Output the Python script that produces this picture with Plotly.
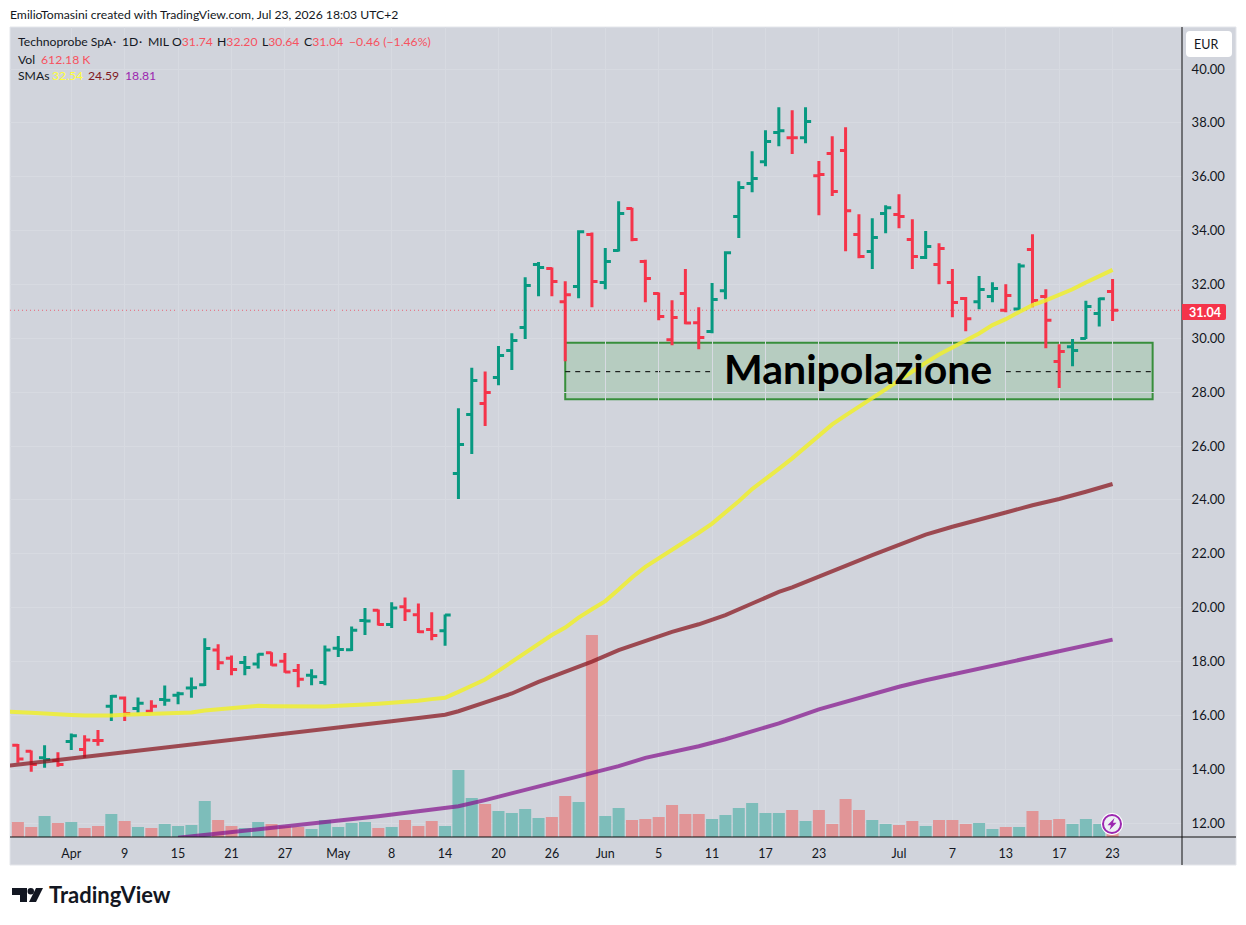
import plotly.graph_objects as go

# ========== data ==========
bars = list(range(83))
opens = [14.89, 14.66, 14.42, 14.32, 15.03, 14.73, 15.06, 16.34, 16.64, 16.25, 16.15, 16.59, 16.74, 17.01, 17.13, 18.42,
         18.12, 17.96, 17.90, 18.32, 18.01, 17.66, 17.49, 17.22, 18.49, 18.43, 19.52, 19.90, 19.37, 20.03, 19.73, 19.19,
         19.14, 24.98, 27.17, 27.58, 28.54, 29.55, 30.40, 32.74, 32.59, 31.36, 31.92, 33.85, 32.07, 33.26, 34.82, 32.85,
         31.66, 29.95, 31.66, 30.58, 30.25, 31.77, 34.52, 35.75, 36.56, 37.64, 37.45, 37.45, 36.04, 36.86, 36.97, 33.85,
         33.22, 34.63, 34.60, 33.67, 33.00, 32.74, 32.07, 31.48, 31.36, 31.55, 31.04, 31.09, 33.30, 31.55, 29.14, 29.69,
         29.99, 30.92, 31.74]
highs = [14.93, 14.69, 14.89, 14.63, 15.32, 15.26, 15.45, 16.75, 16.70, 16.66, 16.56, 17.11, 16.87, 17.40, 18.86, 18.64,
         18.22, 18.20, 18.29, 18.34, 18.31, 17.90, 17.71, 18.59, 18.94, 19.30, 19.98, 19.93, 20.20, 20.37, 20.15, 19.83,
         19.74, 27.40, 28.91, 28.77, 29.71, 30.19, 32.27, 32.83, 32.63, 32.12, 34.01, 33.93, 33.35, 35.09, 34.85, 32.92,
         31.70, 31.41, 32.57, 31.15, 32.05, 33.23, 35.83, 36.95, 37.73, 38.58, 38.47, 38.58, 36.58, 37.50, 37.84, 34.61,
         34.46, 34.94, 35.35, 34.42, 33.98, 33.53, 32.57, 31.53, 32.31, 32.08, 32.01, 32.79, 33.86, 31.82, 29.78, 29.97,
         31.39, 31.51, 32.20]
lows = [14.24, 13.90, 14.05, 14.09, 14.71, 14.42, 14.87, 15.79, 15.79, 16.09, 16.09, 16.35, 16.41, 16.65, 17.09, 17.68,
        17.49, 17.49, 17.74, 17.84, 17.58, 17.04, 17.12, 17.12, 18.16, 18.39, 18.98, 19.33, 19.24, 19.50, 19.06, 18.79,
        18.58, 24.03, 25.70, 26.74, 28.26, 28.82, 29.97, 31.56, 31.56, 29.15, 31.49, 31.15, 31.82, 33.22, 33.60, 31.34,
        30.67, 29.74, 30.52, 29.59, 30.19, 31.45, 33.72, 35.42, 36.39, 37.13, 36.84, 37.24, 34.57, 35.28, 33.23, 32.97,
        32.57, 33.90, 34.09, 32.57, 32.94, 32.01, 30.78, 30.26, 31.08, 31.34, 30.97, 31.04, 31.15, 29.63, 28.15, 28.96,
        29.97, 30.44, 30.64]
closes = [14.38, 14.17, 14.36, 14.17, 15.24, 15.08, 15.06, 16.71, 16.07, 16.45, 16.34, 16.56, 16.80, 17.02, 18.48, 17.95,
          17.70, 17.77, 18.27, 17.87, 17.61, 17.34, 17.43, 18.42, 18.44, 19.16, 19.50, 19.37, 19.98, 19.88, 19.10, 18.96,
          19.72, 26.06, 28.43, 27.99, 29.36, 29.92, 31.96, 32.63, 32.11, 31.62, 33.96, 32.11, 32.85, 34.63, 33.67, 32.22,
          30.81, 30.77, 30.57, 30.03, 31.44, 33.18, 35.60, 35.93, 37.31, 37.71, 37.45, 38.05, 36.08, 35.45, 34.74, 33.04,
          33.74, 34.85, 34.52, 33.04, 33.41, 33.33, 31.33, 30.73, 31.81, 31.85, 31.59, 32.68, 31.40, 30.67, 29.51, 29.55,
          31.18, 31.47, 31.04]
# "g" / "r" colour of each day's bar and volume column
bar_dir = ("r r g r g r r g r g r g g g g r r g g r r r g g g g g r g r r r g "
           "g g r g g g g r r g r g g r r r r r r g g g g g g r g r r r r g g "
           "r r g r r r g g r g r r r g g g r").split()
volume_k = [510, 340, 714, 476, 510, 306, 374, 782, 544, 340, 306, 442, 374, 408, 1224, 578, 374, 306, 510, 442, 374,
            340, 272, 578, 340, 476, 510, 306, 340, 578, 374, 544, 374, 2278, 1326, 1122, 884, 816, 952, 646, 680, 1394,
            1190, 6868, 714, 986, 578, 612, 680, 1088, 782, 782, 612, 748, 986, 1156, 816, 816, 918, 544, 918, 442, 1292,
            918, 578, 442, 408, 544, 374, 578, 578, 442, 476, 272, 340, 340, 884, 578, 612, 442, 612, 442, 612.18]

sma_yellow_idx = list(range(-1, 83))
sma_yellow = [16.14, 16.10, 16.09, 16.07, 16.03, 16.01, 15.99, 15.98, 15.99, 16.02, 16.03, 16.04, 16.07, 16.08, 16.10,
              16.18, 16.22, 16.27, 16.30, 16.35, 16.34, 16.33, 16.33, 16.31, 16.33, 16.35, 16.36, 16.40, 16.43, 16.46,
              16.50, 16.54, 16.60, 16.65, 16.87, 17.08, 17.33, 17.65, 17.99, 18.33, 18.67, 18.98, 19.26, 19.63, 19.94,
              20.24, 20.67, 21.12, 21.51, 21.82, 22.16, 22.48, 22.78, 23.12, 23.52, 23.95, 24.40, 24.76, 25.15, 25.54,
              25.97, 26.40, 26.80, 27.14, 27.45, 27.79, 28.10, 28.44, 28.78, 29.09, 29.40, 29.65, 29.93, 30.18, 30.49,
              30.71, 30.98, 31.23, 31.41, 31.60, 31.82, 32.07, 32.31, 32.54]
sma_brown_idx = [-1, 6, 14, 21, 28, 32, 33, 35, 37, 39, 41, 43, 45, 47, 49, 51, 53, 55, 57, 58, 60, 62, 64, 66, 68, 70,
                 72, 74, 76, 78, 80, 82]
sma_brown = [14.11, 14.51, 14.98, 15.35, 15.78, 16.02, 16.15, 16.48, 16.81, 17.24, 17.61, 17.99, 18.42, 18.77, 19.10,
             19.38, 19.72, 20.15, 20.58, 20.75, 21.17, 21.55, 21.95, 22.34, 22.71, 23.00, 23.25, 23.53, 23.80, 24.03,
             24.30, 24.59]
sma_purple_idx = [12, 15, 19, 23, 27, 30, 32, 33, 35, 38, 41, 43, 45, 47, 49, 51, 53, 55, 57, 60, 62, 64, 66, 68, 70,
                  72, 74, 76, 78, 80, 82]
sma_purple = [11.45, 11.61, 11.82, 12.01, 12.25, 12.44, 12.55, 12.62, 12.85, 13.22, 13.59, 13.84, 14.11, 14.42, 14.64,
              14.85, 15.11, 15.39, 15.70, 16.22, 16.50, 16.81, 17.06, 17.30, 17.52, 17.74, 17.95, 18.17, 18.39, 18.60,
              18.81]

date_ticks = [4, 8, 12, 16, 20, 24, 28, 32, 36, 40, 44, 48, 52, 56, 60, 66, 70, 74, 78, 82]
date_labels = ["Apr", "9", "15", "21", "27", "May", "8", "14", "20", "26", "Jun", "5", "11", "17", "23", "Jul", "7",
               "13", "17", "23"]
price_ticks = list(range(12, 42, 2))
last_price = 31.04

# zone drawn on the chart
zone_start, zone_end = 41.0, 85.0
zone_low, zone_high, zone_mid = 27.74, 29.83, 28.76
zone_gap = (51.85, 74.0)

GREEN = "#089981"
RED = "#f5344a"
VOL_GREEN = "#7dbdba"
VOL_RED = "#e19597"
INK = "#131722"
FONT = "Lato"
PANEL = "#d1d4dc"

W, H = 1246, 925
PLOT_L, PLOT_R, PLOT_T, PLOT_B = 10, 1182, 27, 837


# page pixel -> paper fraction, only for the decorations around the plot
def px(x):
    return (x - PLOT_L) / (PLOT_R - PLOT_L)


def py(y):
    return (PLOT_B - y) / (PLOT_B - PLOT_T)


def note(x, y, text, size=12.2, color=INK, anchor="left", family=FONT):
    fig.add_annotation(xref="paper", yref="paper", x=px(x - 1 if anchor == "left" else x), y=py(y), text=text,
                       showarrow=False, xanchor=anchor, yanchor="middle", borderpad=0,
                       font=dict(size=size, color=color, family=family))


def poly(points, color):
    d = "M " + " L ".join(f"{px(a)},{py(b)}" for a, b in points) + " Z"
    fig.add_shape(type="path", path=d, xref="paper", yref="paper", fillcolor=color, line_width=0, layer="above")


def round_box(x0, y0, x1, y1, r, color, left=True):
    rl = r if left else 0
    d = (f"M {px(x0 + rl)},{py(y0)} L {px(x1 - r)},{py(y0)} Q {px(x1)},{py(y0)} {px(x1)},{py(y0 + r)} "
         f"L {px(x1)},{py(y1 - r)} Q {px(x1)},{py(y1)} {px(x1 - r)},{py(y1)} L {px(x0 + rl)},{py(y1)} "
         f"Q {px(x0)},{py(y1)} {px(x0)},{py(y1 - rl)} L {px(x0)},{py(y0 + rl)} Q {px(x0)},{py(y0)} {px(x0 + rl)},{py(y0)} Z")
    fig.add_shape(type="path", path=d, xref="paper", yref="paper", fillcolor=color, line_width=0, layer="above")


fig = go.Figure()

# ========== volume ==========
fig.add_trace(go.Bar(x=bars, y=volume_k, width=0.9, yaxis="y",
                     marker=dict(color=[VOL_GREEN if d == "g" else VOL_RED for d in bar_dir], line_width=0)))

# ========== moving averages ==========
fig.add_trace(go.Scatter(x=sma_purple_idx, y=sma_purple, mode="lines", yaxis="y2",
                         line=dict(color="rgba(133,21,141,0.72)", width=4)))
fig.add_trace(go.Scatter(x=sma_brown_idx, y=sma_brown, mode="lines", yaxis="y2",
                         line=dict(color="rgba(136,20,28,0.72)", width=4)))
fig.add_trace(go.Scatter(x=sma_yellow_idx, y=sma_yellow, mode="lines", yaxis="y2",
                         line=dict(color="rgba(240,238,45,0.85)", width=4)))

# ========== price bars: ohlc colours by open/close, here the colour follows the day so two traces ==========
for side, color in (("g", GREEN), ("r", RED)):
    pick = [i for i in bars if bar_dir[i] == side]
    fig.add_trace(go.Ohlc(x=pick, open=[opens[i] for i in pick], high=[highs[i] for i in pick],
                          low=[lows[i] for i in pick], close=[closes[i] for i in pick], yaxis="y2", tickwidth=0.42,
                          increasing=dict(line=dict(color=color, width=3)),
                          decreasing=dict(line=dict(color=color, width=3))))

fig.update_layout(
    width=W, height=H, autosize=False, showlegend=False, paper_bgcolor="white", plot_bgcolor="rgba(0,0,0,0)",
    margin=dict(l=PLOT_L, r=W - PLOT_R, t=PLOT_T, b=H - PLOT_B, pad=0), hovermode=False, dragmode=False,
    xaxis=dict(range=[-0.59, 87.2], tickmode="array", tickvals=date_ticks, ticktext=date_labels, showgrid=True,
               gridcolor="#d7dae1", gridwidth=1, zeroline=False, rangeslider_visible=False, ticks="outside", ticklen=5,
               tickcolor="rgba(0,0,0,0)", tickfont=dict(size=12.5, color=INK, family=FONT)),
    yaxis=dict(range=[0, 27540], visible=False, fixedrange=True),
    yaxis2=dict(range=[11.48, 41.56], overlaying="y", side="right", anchor="x", tickmode="array", tickvals=price_ticks,
                tickformat=".2f", showgrid=True, gridcolor="#d7dae1", gridwidth=1, zeroline=False, ticks="outside",
                ticklen=6, tickcolor="rgba(0,0,0,0)", tickfont=dict(size=13, color=INK, family=FONT)),
)

# panel behind everything, frame lines around the scales
fig.add_shape(type="rect", xref="paper", yref="paper", x0=px(10), x1=px(1236), y0=py(865), y1=py(27), fillcolor=PANEL,
              line=dict(color="#e4e6eb", width=1), layer="below")
fig.add_shape(type="line", xref="paper", yref="paper", x0=px(10), x1=px(1236), y0=py(837), y1=py(837),
              line=dict(color="#0f0f0f", width=1), layer="above")
fig.add_shape(type="line", xref="paper", yref="paper", x0=px(1182), x1=px(1182), y0=py(27), y1=py(865),
              line=dict(color="#0f0f0f", width=1), layer="above")

# last price line and label
fig.add_shape(type="line", xref="paper", yref="y2", x0=0, x1=1, y0=last_price, y1=last_price, opacity=0.7,
              line=dict(color=RED, width=1, dash="1px,3px"), layer="below")
round_box(1182, 304, 1226, 320, 2, RED, left=False)
note(1205, 312, f"<b>{last_price:.2f}</b>", 12.5, "white", "center")

# zone rectangle
fig.add_shape(type="rect", xref="x", yref="y2", x0=zone_start, x1=zone_end, y0=zone_low, y1=zone_high,
              fillcolor="rgba(76,175,80,0.2)", line=dict(color="#388e3c", width=2), layer="below")
for a, b in ((zone_start, zone_gap[0]), (zone_gap[1], zone_end)):
    fig.add_shape(type="line", xref="x", yref="y2", x0=a, x1=b, y0=zone_mid, y1=zone_mid,
                  line=dict(color="black", width=1, dash="5px,5px"), layer="below")
fig.add_annotation(xref="x", yref="y2", x=62.9, y=zone_mid, yshift=3, text="<b>Manipolazione</b>", showarrow=False,
                   font=dict(size=41, color="black", family=FONT))

# header and legend
note(10, 14, "EmilioTomasini created with TradingView.com, Jul 23, 2026 18:03 UTC+2")
for x, part in ((18, "Technoprobe SpA"), (113, "·"), (122, "1D"), (139, "·"), (148, "MIL")):
    note(x, 42, part)
LOSS = "#f7525f"
for x, lab, val in ((172, "O", "31.74"), (217, "H", "32.20"), (262, "L", "30.64"), (304, "C", "31.04")):
    note(x, 42, f'{lab}<span style="color:{LOSS}">{val}</span>')
note(349, 42, "−0.46 (−1.46%)", color=LOSS)
note(18, 59, "Vol")
note(41, 59, "612.18 K", color=LOSS)
note(18, 76, "SMAs")
note(52, 76, "32.54", color="#ffff3b")
note(88, 76, "24.59", color="#801922")
note(125, 76, "18.81", color="#9c27b0")

# currency button
round_box(1186, 31, 1232, 57, 4, "white")
note(1206, 44, "EUR", 12.5, INK, "center")

# dividends/earnings badge on the last bar
fig.add_shape(type="circle", xref="paper", yref="paper", x0=px(1101), x1=px(1123), y0=py(835), y1=py(813),
              fillcolor="white", line_width=0, layer="above")
fig.add_shape(type="circle", xref="paper", yref="paper", x0=px(1103), x1=px(1121), y0=py(833), y1=py(815),
              fillcolor="#eef0f4", line=dict(color="#9c27b0", width=2), layer="above")
poly([(1114.5, 818), (1107.5, 825.3), (1111, 825.3), (1109.5, 830), (1116.5, 822.8), (1113, 822.8)], "#9c27b0")

# footer wordmark
poly([(12, 888), (27, 888), (27, 902), (20, 902), (20, 895), (12, 895)], "#131722")
poly([(36, 888), (43, 888), (36, 902), (29, 902)], "#131722")
fig.add_shape(type="circle", xref="paper", yref="paper", x0=px(27.5), x1=px(34), y0=py(894.5), y1=py(888),
              fillcolor="#131722", line_width=0, layer="above")
note(49, 895, "<b>TradingView</b>", 22, "#131722")

fig.write_html("out.html", config=dict(displayModeBar=False),
               post_script="document.body.style.margin='0';document.body.style.overflow='hidden';")
